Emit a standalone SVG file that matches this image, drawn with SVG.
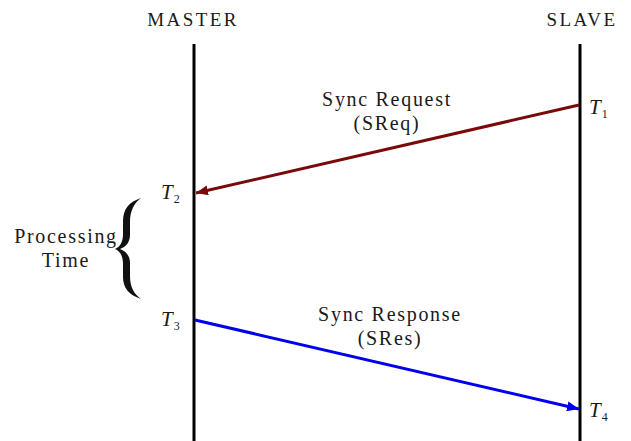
<svg xmlns="http://www.w3.org/2000/svg" width="631" height="441" viewBox="0 0 631 441">
<style>
.lbl{font-family:"Liberation Serif","Times New Roman",serif;font-size:20px;fill:#1a1a1a;letter-spacing:1.7px}
.hdr{font-family:"Liberation Serif","Times New Roman",serif;font-size:19px;fill:#1a1a1a;letter-spacing:2.4px}
.t{font-family:"Liberation Serif","Times New Roman",serif;font-size:21px;font-style:italic;fill:#1a1a1a}
.sub{font-size:12px;font-style:normal}
.life{stroke:#000;stroke-width:3;fill:none}
</style>
<defs>
<marker id="ahRed" markerUnits="userSpaceOnUse" markerWidth="14" markerHeight="10" refX="12" refY="5" orient="auto"><path d="M0,0 L12,5 L0,10 Z" fill="#7a0a0a"/></marker>
<marker id="ahBlue" markerUnits="userSpaceOnUse" markerWidth="14" markerHeight="10" refX="12" refY="5" orient="auto"><path d="M0,0 L12,5 L0,10 Z" fill="#0000ee"/></marker>
</defs>
<rect width="631" height="441" fill="#fff"/>
<g id="master">
<text class="hdr" x="193" y="26" text-anchor="middle">MASTER</text>
<line class="life" x1="194" y1="44" x2="194" y2="441"/>
</g>
<g id="slave">
<text class="hdr" x="582" y="26" text-anchor="middle">SLAVE</text>
<line class="life" x1="580" y1="44" x2="580" y2="441"/>
</g>
<g id="connectors">
<line x1="579" y1="105" x2="196" y2="193" stroke="#7a0a0a" stroke-width="3" marker-end="url(#ahRed)"/>
<line x1="195" y1="320" x2="579" y2="409" stroke="#0000ee" stroke-width="3" marker-end="url(#ahBlue)"/>
</g>
<g id="sreq-label">
<text class="lbl" x="387" y="106" text-anchor="middle">Sync Request</text>
<text class="lbl" x="387" y="130" text-anchor="middle">(SReq)</text>
</g>
<g id="sres-label">
<text class="lbl" x="390" y="321" text-anchor="middle">Sync Response</text>
<text class="lbl" x="390" y="345" text-anchor="middle">(SRes)</text>
</g>
<g id="t1"><text class="t" x="589" y="114">T<tspan class="sub" dx="1" dy="4">1</tspan></text></g>
<g id="t2"><text class="t" x="161" y="199">T<tspan class="sub" dx="1" dy="4">2</tspan></text></g>
<g id="t3"><text class="t" x="161" y="326">T<tspan class="sub" dx="1" dy="4">3</tspan></text></g>
<g id="t4"><text class="t" x="589" y="417">T<tspan class="sub" dx="1" dy="4">4</tspan></text></g>
<g id="processing">
<text class="lbl" x="66" y="243" text-anchor="middle">Processing</text>
<text class="lbl" x="66" y="267" text-anchor="middle">Time</text>
<path d="M141,198 C129,202 123,209 123,221 L123,234 C123,242 120,247 115,249 C120,251 123,256 123,264 L123,277 C123,288 129,295 141,299 C134,294 130,287 130,276 L130,263 C130,256 126,251 120,249 C126,247 130,242 130,235 L130,222 C130,211 134,203 141,198 Z" fill="#111"/>
</g>
</svg>
